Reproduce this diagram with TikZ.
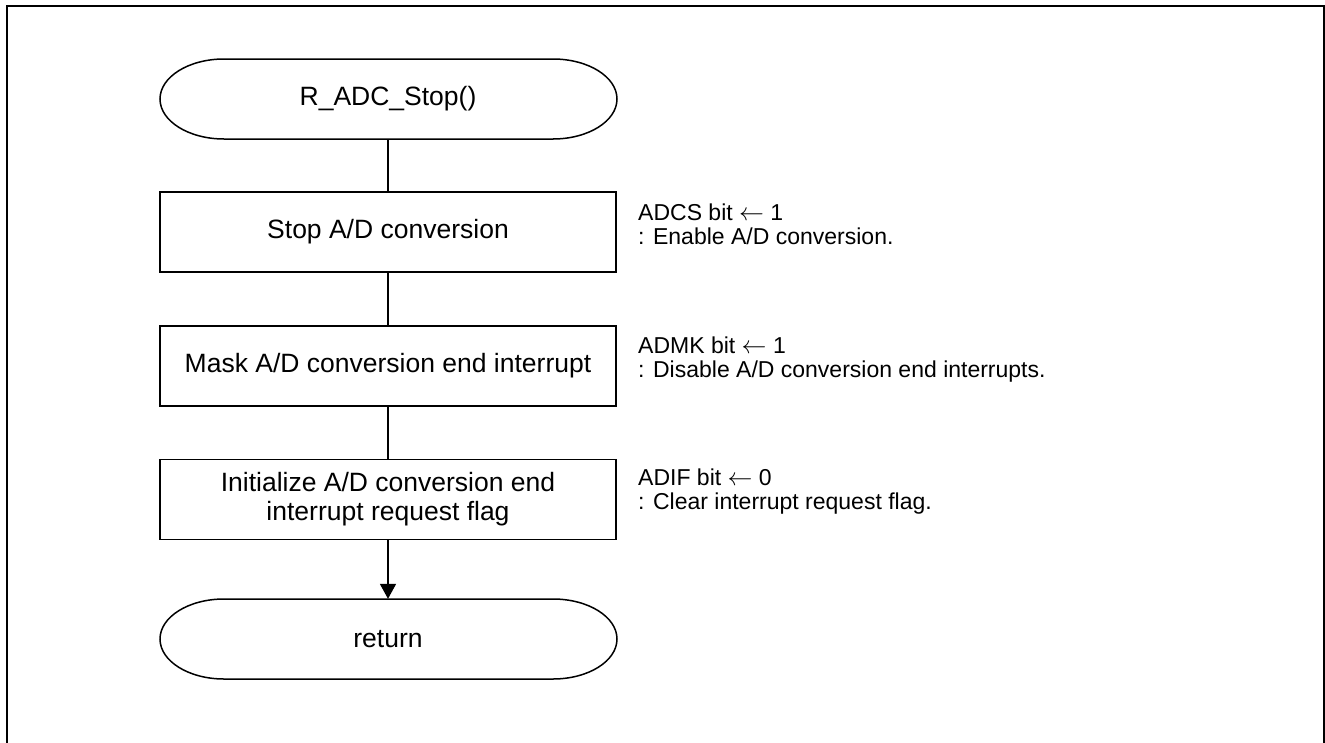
\documentclass[tikz,border=0pt]{standalone}
\usepackage{fontspec}
\setmainfont{Liberation Sans}
\usetikzlibrary{arrows.meta}
\tikzset{
  x=1pt, y=-1pt,
  frameline/.style={line width=2pt, line cap=rect},
  termshape/.style={line width=1.5pt},
  termlabel/.style={shape=rectangle, minimum width=456pt, minimum height=80pt, inner sep=0pt, font=\fontsize{26.5}{29}\selectfont},
  procbox/.style={draw, line width=1.8pt, shape=rectangle, minimum width=456pt, minimum height=80pt, inner sep=0pt, align=center, font=\fontsize{26.5}{29}\selectfont},
  note/.style={anchor=north west, inner sep=0pt, align=left, font=\fontsize{23}{23.5}\selectfont},
  flow/.style={line width=1.8pt},
  flowarrow/.style={line width=1.8pt, -{Triangle[width=16pt,length=15pt]}}
}
\begin{document}
\begin{tikzpicture}
\useasboundingbox (0,0) rectangle (1325,742);
% outer frame (open at bottom)
\draw[frameline] (7,742) -- (7,6) -- (1324,6) -- (1324,742);

% start terminal
\draw[termshape] (224,59) -- (553,59) arc[start angle=-90, end angle=90, x radius=64, y radius=40]
  -- (224,139) arc[start angle=90, end angle=270, x radius=64, y radius=40] -- cycle;
\node[termlabel] (start) at (388,99) {R\_ADC\_Stop()};

% process boxes
\node[procbox] (b1) at (388,232) {Stop A/D conversion};
\node[procbox] (b2) at (388,366) {Mask A/D conversion end interrupt};
\node[procbox] (b3) at (388,499.5) {Initialize A/D conversion end\\interrupt request flag};

% return terminal
\draw[termshape] (224,599) -- (553,599) arc[start angle=-90, end angle=90, x radius=64, y radius=40]
  -- (224,679) arc[start angle=90, end angle=270, x radius=64, y radius=40] -- cycle;
\node[termlabel] (ret) at (388,639) {return};

% connectors
\draw[flow] (start.south) -- (b1.north);
\draw[flow] (b1.south) -- (b2.north);
\draw[flow] (b2.south) -- (b3.north);
\draw[flowarrow] (b3.south) -- (ret.north);

% annotations
\node[note] (n1) at (638,204) {ADCS bit $\leftarrow$ 1\\: Enable A/D conversion.};
\node[note] (n2) at (638,337) {ADMK bit $\leftarrow$ 1\\: Disable A/D conversion end interrupts.};
\node[note] (n3) at (638,469) {ADIF bit $\leftarrow$ 0\\: Clear interrupt request flag.};
\end{tikzpicture}
\end{document}
